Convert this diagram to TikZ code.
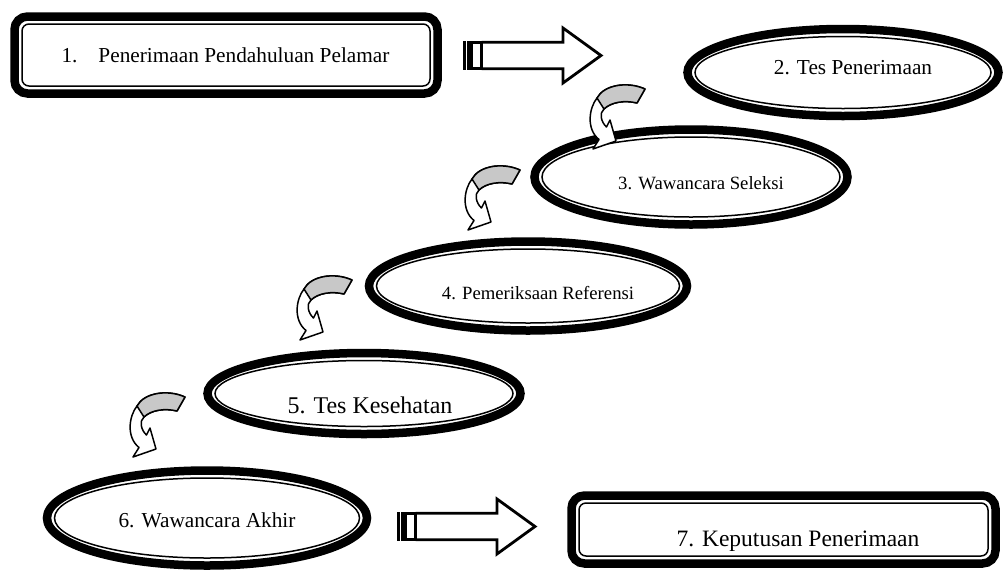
\documentclass[tikz,border=0pt]{standalone}
\usepackage{fontspec}
\setmainfont{Liberation Serif}
\usetikzlibrary{shapes.geometric}

\definecolor{bandgray}{RGB}{200,200,200}

\tikzset{
  oval/.style={draw,ellipse,line width=8.5pt,inner sep=0pt},
  ovalin/.style={draw,ellipse,line width=1.5pt,inner sep=0pt},
  stage/.style={draw,rectangle,rounded corners=13pt,line width=8.5pt,inner sep=0pt},
  stagein/.style={draw,rectangle,rounded corners=7pt,line width=1.5pt,inner sep=0pt},
  lbl/.style={text depth=0pt,inner sep=0pt},
}

% striped block arrow, tail at (#1,#2)
\newcommand{\stripedarrow}[2]{%
  \begin{scope}[shift={(#1,#2)},line width=2.8pt,line join=miter]
    \fill (0,-14.5) rectangle (7,14.5);
    \draw[white,line width=0.4pt] (3.5,-14.5) -- (3.5,14.5);
    \draw (8.5,-13.25) rectangle (18.5,13.25);
    \draw (18.5,-13.25) -- (100,-13.25) -- (100,-27.5) -- (138,0) -- (100,27.5) -- (100,13.25) -- (18.5,13.25);
  \end{scope}}

% curved arrow, top left corner at (#1,#2)
\newcommand{\bendarrow}[2]{%
  \begin{scope}[shift={(#1,#2)},line width=1.5pt,line join=round]
    \filldraw[fill=white] (56,5) .. controls (38,-3) and (15,1) .. (8,14)
      .. controls (0,24) and (-3,45) .. (10,55.5) -- (4,65) -- (27,57) -- (21,36) -- (17.5,43)
      .. controls (12,38) and (10,29) .. (15,25) .. controls (22,18) and (36,16) .. (48,19) -- cycle;
    \filldraw[fill=bandgray] (56,5) .. controls (38,-3) and (15,1) .. (8,14)
      -- (15,25) .. controls (22,18) and (36,16) .. (48,19) -- cycle;
  \end{scope}}

\begin{document}
\begin{tikzpicture}[x=1pt,y=-1pt]
\useasboundingbox (0,0) rectangle (1006,571);

  % boxes
  \draw (226,55) node[stage,minimum width=423pt,minimum height=77pt] (b1) {};
  \draw (b1.center) node[stagein,minimum width=408pt,minimum height=62pt] (b1in) {};
  \draw (225.5,55) node[lbl,font=\fontsize{21.3}{24}\selectfont] (t1) {1.\hspace{21pt}Penerimaan Pendahuluan Pelamar};

  \draw (783.5,529.5) node[stage,minimum width=424pt,minimum height=68pt] (b7) {};
  \draw (b7.center) node[stagein,minimum width=409pt,minimum height=53pt] (b7in) {};
  \draw (798,539) node[lbl,font=\fontsize{23.5}{26}\selectfont] (t7) {7. Keputusan Penerimaan};

  % ovals
  \draw (843,72.5) node[oval,minimum width=311pt,minimum height=87pt] (e2) {};
  \draw (e2.center) node[ovalin,minimum width=296pt,minimum height=72pt] (e2in) {};
  \draw (853,67) node[lbl,font=\fontsize{21.3}{24}\selectfont] (t2) {2. Tes Penerimaan};

  \draw (691,177) node[oval,minimum width=313pt,minimum height=95pt] (e3) {};
  \draw (e3.center) node[ovalin,minimum width=298pt,minimum height=80pt] (e3in) {};
  \draw (701,183) node[lbl,font=\fontsize{18.7}{21}\selectfont] (t3) {3. Wawancara Seleksi};

  \draw (528,286) node[oval,minimum width=318pt,minimum height=89pt] (e4) {};
  \draw (e4.center) node[ovalin,minimum width=303pt,minimum height=74pt] (e4in) {};
  \draw (538,293) node[lbl,font=\fontsize{18.7}{21}\selectfont] (t4) {4. Pemeriksaan Referensi};

  \draw (364,393.5) node[oval,minimum width=313pt,minimum height=81pt] (e5) {};
  \draw (e5.center) node[ovalin,minimum width=298pt,minimum height=66pt] (e5in) {};
  \draw (370,405) node[lbl,font=\fontsize{24}{27}\selectfont] (t5) {5. Tes Kesehatan};

  \draw (207,518) node[oval,minimum width=320pt,minimum height=95pt] (e6) {};
  \draw (e6.center) node[ovalin,minimum width=305pt,minimum height=80pt] (e6in) {};
  \draw (207,520) node[lbl,font=\fontsize{21.3}{24}\selectfont] (t6) {6. Wawancara Akhir};

  % arrows
  \stripedarrow{463}{55.5}
  \stripedarrow{397}{526.5}

  \bendarrow{589}{84}
  \bendarrow{464}{165}
  \bendarrow{296}{275}
  \bendarrow{129}{392}

\end{tikzpicture}
\end{document}
